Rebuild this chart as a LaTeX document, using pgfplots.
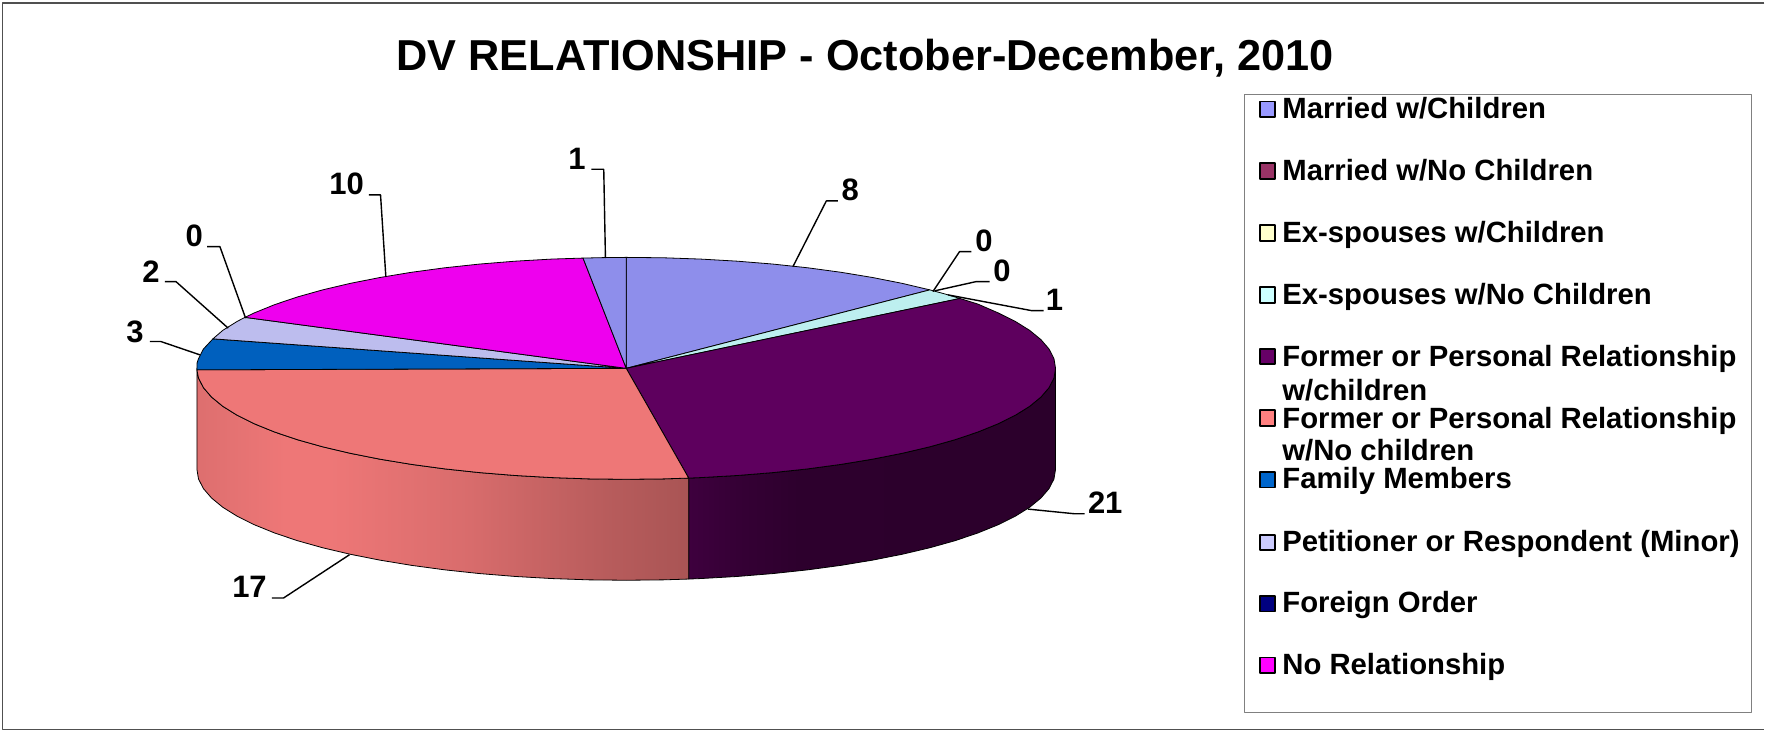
\documentclass[border=0pt]{standalone}
\usepackage{pgfplots}
\pgfplotsset{compat=1.18}
\usepackage{fontspec}
\setmainfont{Liberation Sans}
\definecolor{cA}{HTML}{8E8EEB}
\definecolor{cC}{HTML}{BDEFEF}
\definecolor{cE}{HTML}{5E005E}
\definecolor{cF}{HTML}{EE7777}
\definecolor{cG}{HTML}{0060BE}
\definecolor{cH}{HTML}{BDBDEE}
\definecolor{cJ}{HTML}{EE00EE}
\definecolor{frameC}{HTML}{505050}
\definecolor{legC}{HTML}{808080}
\pgfdeclarehorizontalshading{salmonside}{100bp}{
 color(0bp)=(cF!93!black); color(25bp)=(cF!93!black); color(34bp)=(cF); color(38.5bp)=(cF); color(52.5bp)=(cF!91!black); color(59.5bp)=(cF!84!black); color(67bp)=(cF!77!black); color(75bp)=(cF!71!black); color(100bp)=(cF!71!black)}
\pgfdeclarehorizontalshading{purpleside}{100bp}{
 color(0bp)=(cE!66!black); color(25bp)=(cE!66!black); color(32bp)=(cE!56!black); color(40bp)=(cE!48!black); color(75bp)=(cE!46!black); color(100bp)=(cE!46!black)}
\newcommand{\lab}[3]{\node[font=\bfseries\fontsize{15.5}{15.5}\selectfont,anchor=center,inner sep=0pt] at (axis cs:#1,#2) {#3};}
\newcommand{\legtext}[3]{\node[font=\bfseries\fontsize{14.65}{14.65}\selectfont,anchor=base west,inner sep=0pt] at (axis cs:#1,#2) {#3};}
\begin{document}
\begin{tikzpicture}
\begin{axis}[
  scale only axis, width=882.5pt, height=365.5pt,
  xmin=0, xmax=1765, ymin=0, ymax=731, y dir=reverse,
  hide axis, clip=false,
  every axis plot/.append style={line join=round}
]
% picture extent and outer frame (open on the right)
\addplot[draw=none] coordinates {(0,0) (1765,731)};
\addplot[draw=frameC, line width=0.75pt] coordinates {(1765,3) (2.5,3) (2.5,730) (1765,730)};
% legend box
\addplot[draw=legC, line width=0.6pt] coordinates {(1245.4,94.3) (1752.6,94.3) (1752.6,713) (1245.4,713)} --cycle;
% sides
\addplot[draw=black, line width=0.4pt, shading=purpleside, shading angle=0] coordinates {(689,478.3) (701.1,477.8) (737.7,475.7) (773.4,472.8) (808,469.1) (841.3,464.6) (872.8,459.4) (902.6,453.5) (930.2,447) (955.5,439.9) (978.3,432.2) (998.5,424) (1015.8,415.4) (1030.1,406.5) (1041.4,397.2) (1049.5,387.8) (1054.4,378.2) (1056,368.5)
 (1056,469.5) (1054.4,479.2) (1049.5,488.8) (1041.4,498.2) (1030.1,507.5) (1015.8,516.4) (998.5,525) (978.3,533.2) (955.5,540.9) (930.2,548) (902.6,554.5) (872.8,560.4) (841.3,565.6) (808,570.1) (773.4,573.8) (737.7,576.7) (701.1,578.8) (689,579.3)} --cycle;
\addplot[draw=black, line width=0.4pt, shading=salmonside, shading angle=0] coordinates {(197,368.5) (198.6,378.2) (203.5,387.8) (211.6,397.2) (222.9,406.5) (237.2,415.4) (254.5,424) (274.7,432.2) (297.5,439.9) (322.8,447) (350.4,453.5) (380.2,459.4) (411.7,464.6) (445,469.1) (479.6,472.8) (515.3,475.7) (551.9,477.8) (589.1,479.1) (626.5,479.5) (663.9,479.1) (689,478.3)
 (689,579.3) (663.9,580.1) (626.5,580.5) (589.1,580.1) (551.9,578.8) (515.3,576.7) (479.6,573.8) (445,570.1) (411.7,565.6) (380.2,560.4) (350.4,554.5) (322.8,548) (297.5,540.9) (274.7,533.2) (254.5,525) (237.2,516.4) (222.9,507.5) (211.6,498.2) (203.5,488.8) (198.6,479.2) (197,469.5)} --cycle;
% top faces
\addplot[draw=black, line width=0.4pt, fill=cA] coordinates {(626.5,368.5) (626.5,257.5) (663.9,257.9) (701.1,259.2) (737.7,261.3) (773.4,264.2) (808,267.9) (841.3,272.4) (872.8,277.6) (902.6,283.5) (930.2,290)} --cycle;
\addplot[draw=black, line width=0.4pt, fill=cC] coordinates {(626.5,368.5) (930.2,290) (945.7,294.2) (960.3,298.6)} --cycle;
\addplot[draw=black, line width=0.4pt, fill=cE] coordinates {(626.5,368.5) (960.3,298.6) (978.3,304.2) (998.5,313) (1015.8,321.6) (1030.1,330.5) (1041.4,339.8) (1049.5,349.2) (1054.4,358.8) (1056,368.5) (1054.4,378.2) (1049.5,387.8) (1041.4,397.2) (1030.1,406.5) (1015.8,415.4) (998.5,424) (978.3,432.2) (955.5,439.9) (930.2,447) (902.6,453.5) (872.8,459.4) (841.3,464.6) (808,469.1) (773.4,472.8) (737.7,475.7) (701.1,477.8) (689,478.3)} --cycle;
\addplot[draw=black, line width=0.4pt, fill=cF] coordinates {(626.5,368.5) (689,478.3) (663.9,479.1) (626.5,479.5) (589.1,479.1) (551.9,477.8) (515.3,475.7) (479.6,472.8) (445,469.1) (411.7,464.6) (380.2,459.4) (350.4,453.5) (322.8,447) (297.5,439.9) (274.7,432.2) (254.5,424) (237.2,415.4) (222.9,406.5) (211.6,397.2) (203.5,387.8) (198.6,378.2) (197,370)} --cycle;
\addplot[draw=black, line width=0.4pt, fill=cG] coordinates {(626.5,368.5) (197,370) (197.2,363) (198.6,358.8) (203.5,349.2) (213,339)} --cycle;
\addplot[draw=black, line width=0.4pt, fill=cH] coordinates {(626.5,368.5) (213,339) (222.9,330.5) (237.2,321.6) (245,317.5)} --cycle;
\addplot[draw=black, line width=0.4pt, fill=cJ] coordinates {(626.5,368.5) (245,317.5) (254.5,313) (274.7,304.8) (297.5,297.1) (322.8,290) (350.4,283.5) (380.2,277.6) (411.7,272.4) (445,267.9) (479.6,264.2) (515.3,261.3) (551.9,259.2) (583.3,258.2)} --cycle;
\addplot[draw=black, line width=0.4pt, fill=cA] coordinates {(626.5,368.5) (583.3,258.2) (605,257.7) (626.5,257.5)} --cycle;
% leaders
\addplot[black, line width=0.7pt] coordinates {(591.7,169.3) (604,169.3) (605.7,258.3)};
\addplot[black, line width=0.7pt] coordinates {(369,195) (380.7,195) (386,276.7)};
\addplot[black, line width=0.7pt] coordinates {(207.3,246.7) (220,246.7) (245.7,318.3)};
\addplot[black, line width=0.7pt] coordinates {(165,281.7) (176,281.7) (228.3,328.3)};
\addplot[black, line width=0.7pt] coordinates {(150,341.7) (161,341.7) (200,355)};
\addplot[black, line width=0.7pt] coordinates {(838.3,201) (826.7,201) (793.3,266.7)};
\addplot[black, line width=0.7pt] coordinates {(971.7,251.7) (960,251.7) (933.3,291.7)};
\addplot[black, line width=0.7pt] coordinates {(990,281.7) (976.7,281.7) (935,291)};
\addplot[black, line width=0.7pt] coordinates {(1044,310.7) (1031.7,310.7) (948.3,295)};
\addplot[black, line width=0.7pt] coordinates {(1085,514) (1075,514) (1028.3,509.3)};
\addplot[black, line width=0.7pt] coordinates {(272,598.3) (283.6,598.3) (349.6,555)};
% legend swatches
\addplot[only marks, mark=square*, mark size=3.9pt, mark options={draw=black, line width=0.85pt, fill={rgb,255:red,153;green,153;blue,255}}] coordinates {(1268,109.3)};
\addplot[only marks, mark=square*, mark size=3.9pt, mark options={draw=black, line width=0.85pt, fill={rgb,255:red,153;green,51;blue,102}}] coordinates {(1268,171)};
\addplot[only marks, mark=square*, mark size=3.9pt, mark options={draw=black, line width=0.85pt, fill={rgb,255:red,255;green,255;blue,204}}] coordinates {(1268,233)};
\addplot[only marks, mark=square*, mark size=3.9pt, mark options={draw=black, line width=0.85pt, fill={rgb,255:red,204;green,255;blue,255}}] coordinates {(1268,295)};
\addplot[only marks, mark=square*, mark size=3.9pt, mark options={draw=black, line width=0.85pt, fill={rgb,255:red,102;green,0;blue,102}}] coordinates {(1268,356.7)};
\addplot[only marks, mark=square*, mark size=3.9pt, mark options={draw=black, line width=0.85pt, fill={rgb,255:red,255;green,128;blue,128}}] coordinates {(1268,418.3)};
\addplot[only marks, mark=square*, mark size=3.9pt, mark options={draw=black, line width=0.85pt, fill={rgb,255:red,0;green,102;blue,204}}] coordinates {(1268,480)};
\addplot[only marks, mark=square*, mark size=3.9pt, mark options={draw=black, line width=0.85pt, fill={rgb,255:red,204;green,204;blue,255}}] coordinates {(1268,542.7)};
\addplot[only marks, mark=square*, mark size=3.9pt, mark options={draw=black, line width=0.85pt, fill={rgb,255:red,0;green,0;blue,128}}] coordinates {(1268,604)};
\addplot[only marks, mark=square*, mark size=3.9pt, mark options={draw=black, line width=0.85pt, fill={rgb,255:red,255;green,0;blue,255}}] coordinates {(1268,665.7)};
% legend text
\legtext{1282.5}{119}{Married w/Children}
\legtext{1282.5}{181}{Married w/No Children}
\legtext{1282.5}{243}{Ex-spouses w/Children}
\legtext{1282.5}{305}{Ex-spouses w/No Children}
\legtext{1282.5}{367}{Former or Personal Relationship}
\legtext{1282.5}{401}{w/children}
\legtext{1282.5}{428.5}{Former or Personal Relationship}
\legtext{1282.5}{461}{w/No children}
\legtext{1282.5}{489}{Family Members}
\legtext{1282.5}{552}{Petitioner or Respondent (Minor)}
\legtext{1282.5}{613}{Foreign Order}
\legtext{1282.5}{675}{No Relationship}
% data labels
\lab{577.3}{159.3}{1}
\lab{346.7}{184}{10}
\lab{194.3}{236}{0}
\lab{151}{271.5}{2}
\lab{135}{332}{3}
\lab{850.7}{190}{8}
\lab{984.3}{241}{0}
\lab{1002.3}{271}{0}
\lab{1055}{300}{1}
\lab{1105.7}{502.7}{21}
\lab{249.6}{587.3}{17}
% title
\node[font=\bfseries\fontsize{21.65}{21.65}\selectfont,anchor=center,inner sep=0pt] at (axis cs:865.5,58.5) {DV RELATIONSHIP - October-December, 2010};
\end{axis}
\end{tikzpicture}
\end{document}
